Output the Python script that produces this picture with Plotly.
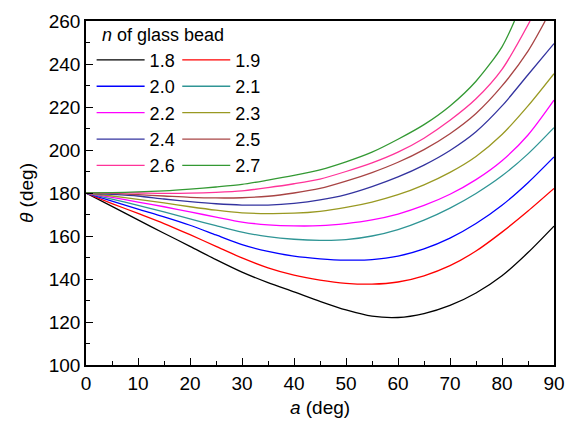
import plotly.graph_objects as go

a_vals = [0, 5, 10, 15, 20, 25, 30, 35, 40, 45, 50, 55, 60, 65, 70, 75, 80, 85, 90]

theta_18 = [180, 173.8, 167.5, 161.3, 155.2, 149.0, 143.2, 138.3, 134.0, 129.6, 125.6, 122.7, 122.1, 123.9, 127.7, 133.5, 141.5, 152.3, 164.6]
theta_19 = [180, 175.1, 170.5, 165.8, 160.6, 155.2, 149.8, 145.2, 141.8, 139.5, 138.0, 137.6, 138.6, 141.5, 146.2, 153.0, 161.8, 171.6, 182.1]
theta_20 = [180, 176.2, 172.5, 168.9, 165.0, 160.5, 156.0, 152.8, 150.6, 149.4, 148.8, 149.0, 150.6, 154.0, 159.0, 165.8, 174.3, 184.8, 196.8]
theta_21 = [180, 177.2, 174.3, 171.2, 168.0, 164.8, 161.8, 159.7, 158.5, 158.0, 158.3, 160.0, 163.0, 167.4, 173.0, 179.8, 188.0, 198.2, 210.4]
theta_22 = [180, 178.0, 175.8, 173.6, 171.2, 168.8, 166.5, 165.2, 164.7, 164.8, 165.8, 167.5, 170.2, 174.2, 179.4, 186.2, 195.0, 207.0, 223.2]
theta_23 = [180, 178.6, 177.0, 175.4, 173.6, 172.0, 170.8, 170.4, 170.6, 171.5, 173.3, 175.8, 179.2, 183.8, 189.6, 197.0, 207.2, 220.5, 235.5]
theta_24 = [180, 179.4, 178.6, 177.2, 176.0, 175.0, 174.4, 174.4, 175.2, 176.8, 179.3, 183.0, 187.5, 193.0, 199.8, 208.5, 220.5, 235.0, 249.5]

a_25 = [0, 5, 10, 15, 20, 25, 30, 35, 40, 45, 50, 55, 60, 65, 70, 75, 80, 85, 88.3]
theta_25 = [180, 179.8, 179.2, 178.6, 178.0, 177.7, 177.8, 178.5, 180.0, 182.1, 185.5, 189.5, 194.3, 200.2, 207.6, 217.0, 229.8, 246.0, 260]
a_26 = [0, 5, 10, 15, 20, 25, 30, 35, 40, 45, 50, 55, 60, 65, 70, 75, 80, 85.4]
theta_26 = [180, 180.1, 180.0, 179.8, 179.9, 180.3, 181.0, 182.5, 184.3, 186.5, 190.0, 194.0, 199.0, 205.5, 213.8, 223.8, 237.5, 260]
a_27 = [0, 5, 10, 15, 20, 25, 30, 35, 40, 45, 50, 55, 60, 65, 70, 75, 80, 82.4]
theta_27 = [180, 180.2, 180.5, 181.0, 181.8, 182.8, 184.0, 186.0, 188.2, 190.8, 194.5, 199.0, 205.0, 211.8, 220.5, 232.0, 248.0, 260]

labels = ["1.8", "1.9", "2.0", "2.1", "2.2", "2.3", "2.4", "2.5", "2.6", "2.7"]
colors = ["#000000", "#ff0000", "#0000ff", "#2f9595", "#ff00ff",
          "#999922", "#33339f", "#a84444", "#ff3399", "#339933"]

xs = [a_vals] * 7 + [a_25, a_26, a_27]
ys = [theta_18, theta_19, theta_20, theta_21, theta_22, theta_23, theta_24,
      theta_25, theta_26, theta_27]

FONT = "Liberation Sans"

fig = go.Figure()
for i, (lab, col, x, y) in enumerate(zip(labels, colors, xs, ys)):
    fig.add_trace(go.Scatter(
        x=x, y=y, mode="lines", name=lab,
        line=dict(color=col, width=1.3, shape="spline", smoothing=0.8),
        legend="legend" if i % 2 == 0 else "legend2",
    ))

axis_common = dict(
    showline=True, linecolor="black", linewidth=1.6, mirror=True,
    ticks="inside", ticklen=7, tickwidth=1.4, tickcolor="black",
    showgrid=False, zeroline=False, automargin=False,
    tickfont=dict(family=FONT, size=19, color="black"),
)

leg_common = dict(xanchor="left", yanchor="top", bgcolor="rgba(0,0,0,0)",
                  borderwidth=0, itemwidth=48,
                  font=dict(family=FONT, size=18, color="black"))

fig.update_layout(
    width=573, height=421,
    margin=dict(l=86, r=19, t=21, b=56),
    paper_bgcolor="white", plot_bgcolor="white",
    font=dict(family=FONT, size=19, color="black"),
    xaxis=dict(range=[0, 90], dtick=10, tick0=0,
               minor=dict(ticks="inside", dtick=5, ticklen=4, tickwidth=1.2, tickcolor="black"),
               title=dict(text="<i>a</i> (deg)", font=dict(family=FONT, size=19), standoff=8),
               **axis_common),
    yaxis=dict(range=[100, 260], dtick=20, tick0=100,
               minor=dict(ticks="inside", dtick=10, ticklen=4, tickwidth=1.2, tickcolor="black"),
               title=dict(text="<i>θ</i> (deg)", font=dict(family=FONT, size=19), standoff=10),
               **axis_common),
    legend=dict(x=0.012, y=0.94, **leg_common),
    legend2=dict(x=0.195, y=0.94, **leg_common),
    annotations=[dict(text="<i>n</i> of glass bead", xref="paper", yref="paper",
                      x=(100 - 86) / 468, y=(365 - 35) / 344.3, xanchor="left", yanchor="middle",
                      showarrow=False, font=dict(family=FONT, size=18, color="black"))],
)

fig.write_html("out.html")
